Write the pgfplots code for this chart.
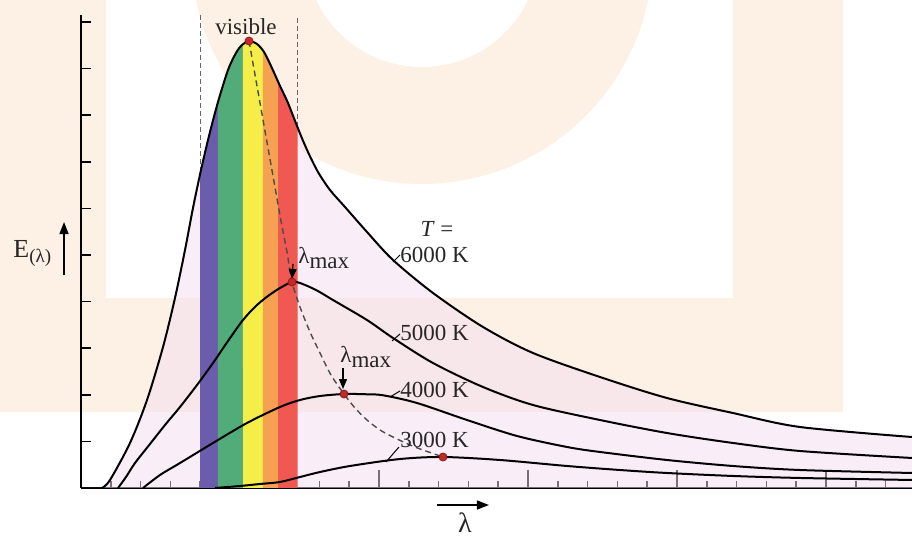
\documentclass[border=0pt]{standalone}
\usepackage{fontspec}
\setmainfont{Liberation Serif}
\usepackage{pgfplots}
\pgfplotsset{compat=1.18}
\usepackage{pgfplotstable}
\usepgfplotslibrary{fillbetween}
\usetikzlibrary{arrows.meta}

\definecolor{peach}{RGB}{253,240,228}
\definecolor{pinkfill}{RGB}{243,222,240}
\definecolor{bviolet}{RGB}{108,92,172}
\definecolor{bgreen}{RGB}{82,172,122}
\definecolor{byellow}{RGB}{246,238,72}
\definecolor{borange}{RGB}{246,160,82}
\definecolor{bred}{RGB}{240,88,82}
\definecolor{dotred}{RGB}{196,40,40}
\newcommand{\lbl}{\fontsize{11.5}{13}\selectfont}

% x in minor-tick units, y in y-tick units
\pgfplotstableread{
x y
0.705 0
0.973 0.172
1.644 0.966
2.215 1.888
2.752 3.026
3.154 4.077
3.490 5.107
3.758 6.009
4.027 6.824
4.295 7.554
4.597 8.283
4.933 8.970
5.201 9.335
5.403 9.506
5.638 9.592
5.906 9.528
6.141 9.356
6.376 9.056
6.678 8.627
6.946 8.262
7.315 7.661
7.617 7.210
7.953 6.781
8.356 6.395
8.859 6.030
9.597 5.494
10.470 4.893
11.812 4.185
13.490 3.455
15.168 2.897
17.416 2.382
19.664 1.931
21.879 1.609
24.128 1.309
27.886 1.094
}\tsix

\pgfplotstableread{
x y
1.242 0
1.510 0.236
1.812 0.536
2.315 0.944
2.819 1.352
3.322 1.738
3.893 2.210
4.430 2.682
4.933 3.155
5.436 3.605
5.872 3.906
6.275 4.120
6.678 4.292
7.081 4.421
7.349 4.399
7.886 4.249
8.456 4.034
9.597 3.605
10.470 3.219
11.812 2.682
13.490 2.167
15.168 1.781
17.416 1.459
19.664 1.180
21.879 0.966
24.128 0.794
27.886 0.644
}\tfive

\pgfplotstableread{
x y
2.081 0
2.651 0.279
3.322 0.536
4.430 0.966
5.570 1.395
6.678 1.738
7.349 1.888
8.020 1.974
8.826 2.017
9.530 2.012
10.134 1.990
11.275 1.824
12.953 1.459
14.631 1.116
16.309 0.880
17.416 0.773
19.664 0.601
21.879 0.472
24.128 0.386
27.886 0.322
}\tfour

\pgfplotstableread{
x y
4.497 0
5.336 0.043
6.007 0.086
6.678 0.129
7.349 0.236
8.020 0.343
9.027 0.472
10.705 0.622
12.148 0.665
14.060 0.601
16.309 0.472
18.087 0.386
19.664 0.322
21.879 0.258
24.128 0.215
27.886 0.172
}\tthree

\pgfplotstableread{
x y
5.638 9.592
5.906 8.627
6.174 7.661
6.443 6.695
6.711 5.730
6.913 5.064
7.081 4.421
7.349 3.884
7.685 3.348
8.020 2.897
8.389 2.425
8.826 2.017
9.195 1.717
9.597 1.459
10.034 1.245
10.470 1.094
11.040 0.923
11.477 0.815
12.148 0.665
}\twien

\begin{document}
\begin{tikzpicture}
\begin{axis}[
    set layers,
    anchor=south west, at={(0,0)},
    x=14.9pt, y=23.3pt,
    xmin=0, xmax=27.886, ymin=0, ymax=10.15,
    axis x line*=bottom, axis y line*=left,
    axis line style={line width=1pt, black},
    xtick={5,10,15,20,25}, minor xtick={1,...,27}, ytick={1,...,10},
    xticklabels={}, yticklabels={},
    tick align=inside,
    major tick length=9pt, minor tick length=3.5pt,
    tick style={line width=0.8pt, black},
    ytick style={/pgfplots/major tick length=5pt},
    clip=false,
  ]
  % faint background shapes
  \begin{pgfonlayer}{axis background}
    \fill[peach] (axis cs:-2.718,10.472) rectangle (axis cs:0.839,1.674);
    \fill[peach] (axis cs:-2.718,4.077) rectangle (axis cs:25.570,1.631);
    \fill[peach] (axis cs:21.879,10.472) rectangle (axis cs:25.570,1.631);
    \fill[peach] (axis cs:11.443,11.481) circle[radius=115.5pt];
    \fill[white] (axis cs:11.443,11.545) circle[radius=58.5pt];
  \end{pgfonlayer}

  \addplot[draw=none, smooth, name path=T6] table {\tsix};
  \addplot[draw=none, name path=base] coordinates {(0,0) (27.886,0)};
  \addplot[pinkfill, opacity=0.5] fill between[of=T6 and base];
  \addplot[bviolet] fill between[of=T6 and base, soft clip={domain=4.000:4.597}];
  \addplot[bgreen] fill between[of=T6 and base, soft clip={domain=4.597:5.436}];
  \addplot[byellow] fill between[of=T6 and base, soft clip={domain=5.436:6.107}];
  \addplot[borange] fill between[of=T6 and base, soft clip={domain=6.107:6.611}];
  \addplot[bred] fill between[of=T6 and base, soft clip={domain=6.611:7.270}];

  % visible range
  \addplot[gray!80!black, line width=0.7pt, dash pattern=on 2.5pt off 1.5pt] coordinates {(4.000,10.15) (4.000,6.72)};
  \addplot[gray!80!black, line width=0.7pt, dash pattern=on 2.5pt off 1.5pt] coordinates {(7.270,10.09) (7.270,7.70)};

  \addplot[black!70, line width=0.7pt, smooth, dash pattern=on 3pt off 2pt] table {\twien};

  \addplot[black, line width=1pt, smooth] table {\tsix};
  \addplot[black, line width=1pt, smooth] table {\tfive};
  \addplot[black, line width=1pt, smooth] table {\tfour};
  \addplot[black, line width=1pt, smooth] table {\tthree};

  \addplot[only marks, mark=*, mark size=2pt, mark options={fill=dotred, draw=dotred!70!black}]
    coordinates {(5.638,9.592) (7.081,4.421) (8.826,2.017) (12.148,0.665)};

  % labels
  \node[font=\lbl, text=black!85, inner sep=0pt] at (axis cs:5.537,9.893) {visible};
  \node[font=\lbl, text=black!85, inner sep=0pt] at (axis cs:11.946,5.569) {\textit{T} =};
  \node[font=\lbl, text=black!85, inner sep=0pt, anchor=west] at (axis cs:10.705,5.000) {6000 K};
  \node[font=\lbl, text=black!85, inner sep=0pt, anchor=west] at (axis cs:10.705,3.326) {5000 K};
  \node[font=\lbl, text=black!85, inner sep=0pt, anchor=west] at (axis cs:10.705,2.103) {4000 K};
  \node[font=\lbl, text=black!85, inner sep=0pt, anchor=west] at (axis cs:10.705,1.030) {3000 K};
  \draw[line width=0.5pt] (axis cs:10.470,4.850) -- (axis cs:10.705,5.000);
  \draw[line width=0.5pt] (axis cs:10.436,3.155) -- (axis cs:10.705,3.305);
  \draw[line width=0.5pt] (axis cs:10.369,1.953) -- (axis cs:10.705,2.082);
  \draw[line width=0.5pt] (axis cs:10.235,0.558) -- (axis cs:10.671,0.880);

  \node[font=\lbl, text=black!85, inner sep=0pt, anchor=west] at (axis cs:7.282,4.936) {λ\raisebox{-0.45ex}{max}};
  \node[font=\lbl, text=black!85, inner sep=0pt, anchor=west] at (axis cs:8.691,2.811) {λ\raisebox{-0.45ex}{max}};
  \draw[-{Triangle[width=4pt,length=5pt]}, line width=0.6pt] (axis cs:7.114,4.807) -- (axis cs:7.081,4.485);
  \draw[-{Triangle[width=4pt,length=5pt]}, line width=0.6pt] (axis cs:8.792,2.575) -- (axis cs:8.792,2.124);

  \node[font=\fontsize{13}{15}\selectfont, text=black!85, inner sep=0pt, anchor=base west] at (axis cs:-2.282,4.957) {E\raisebox{-0.5ex}{\fontsize{9.5}{11}\selectfont(λ)}};
  \draw[-{Triangle[width=4.5pt,length=6pt]}, line width=0.7pt] (axis cs:-0.570,4.571) -- (axis cs:-0.570,5.708);
  \draw[-{Triangle[width=4.5pt,length=6pt]}, line width=0.7pt] (axis cs:11.946,-0.365) -- (axis cs:13.691,-0.365);
  \node[font=\fontsize{14}{16}\selectfont, text=black!85, inner sep=0pt] at (axis cs:12.886,-0.751) {λ};
\end{axis}
\pgfresetboundingbox
\path[use as bounding box] (-40.5pt,-24pt) rectangle (415.5pt,244pt);
\end{tikzpicture}
\end{document}
